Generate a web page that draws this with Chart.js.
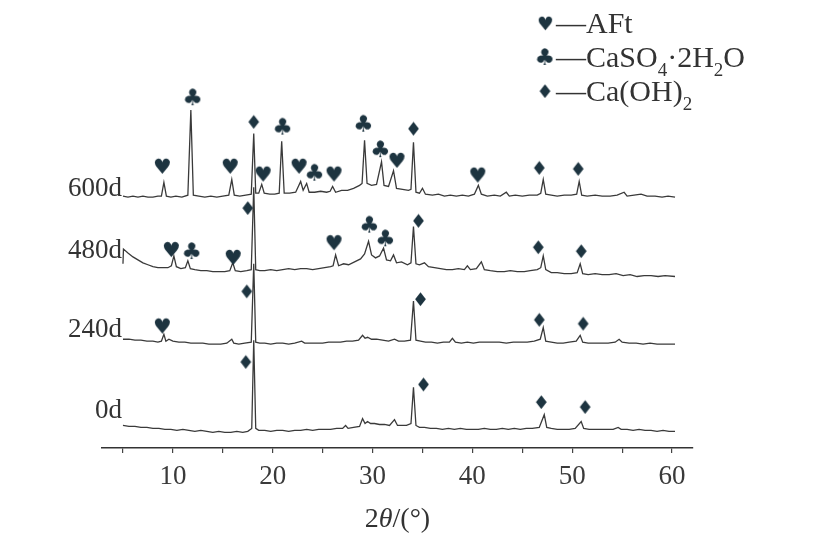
<!DOCTYPE html>
<html>
<head>
<meta charset="utf-8">
<script src="https://cdn.jsdelivr.net/npm/chart.js@4.4.1/dist/chart.umd.min.js"></script>
<style>
  html, body { margin: 0; padding: 0; background: #fff; }
  #wrap { width: 822px; height: 533px; }
</style>
</head>
<body>
<div id="wrap"><canvas id="xrdChart" width="822" height="533"></canvas></div>
<script>
// 2theta (deg) / relative intensity pairs
const xrd0d = [
  [5,5],[5.6,4],[6.2,4],[6.8,3],[7.4,3],[8,2],[8.6,2],[9.2,1],[9.8,1],[10.4,0],[11,1],[11.6,0],[12.2,-1],[12.8,0],
  [13.4,-1],[14,-2],[14.6,-1],[15.2,-2],[15.8,-2],[16.4,-1],[17,-2],[17.5,-1],[17.9,2],[18.1,92],[18.3,2],[18.6,0],
  [19.2,0],[19.8,-1],[20.4,0],[21,0],[21.6,-1],[22.2,0],[22.8,0],[23.4,1],[24,0],[24.6,1],[25.2,1],[25.8,1],[26.4,2],
  [27.0,2],[27.3,5],[27.55,2],[28.1,3],[28.7,4],[29.0,12],[29.25,7],[29.5,9],[29.8,7],[30.2,7],[30.7,6],[31.2,6],
  [31.7,5],[32.2,11],[32.5,5],[32.9,5],[33.4,5],[33.85,7],[34.1,44],[34.35,5],[34.7,3],[35.2,3],[35.8,2],[36.4,2],
  [37,1],[37.6,2],[38.2,1],[38.8,2],[39.4,1],[40,1],[40.6,1],[41.2,2],[41.8,1],[42.4,1],[43,2],[43.6,1],[44.2,2],
  [44.8,1],[45.4,2],[46,2],[46.7,3],[47.2,16],[47.45,3],[47.9,2],[48.5,1],[49.1,1],[49.7,1],[50.3,2],[50.9,9],
  [51.15,2],[51.7,1],[52.3,1],[52.9,1],[53.5,1],[54.1,1],[54.6,3],[54.9,1],[55.5,1],[56.1,0],[56.7,1],[57.3,0],
  [57.9,0],[58.5,-1],[59.1,0],[59.7,-1],[60.3,-1]
];
const xrd240d = [
  [5,3],[5.6,3],[6.2,2],[6.8,2],[7.4,1],[8,1],[8.5,0],[8.85,1],[9.1,8],[9.3,1],[9.6,3],[10,1],[10.6,0],[11.2,0],
  [11.8,-1],[12.4,-1],[13,-1],[13.6,-2],[14.2,-2],[14.8,-2],[15.4,-1],[15.9,3],[16.1,-1],[16.6,-2],[17.2,-1],
  [17.85,0],[18.1,80],[18.3,0],[18.7,-1],[19.2,-1],[19.8,-2],[20.4,-1],[21,-1],[21.6,-2],[22.2,-1],[22.9,1],
  [23.2,-1],[23.8,-1],[24.4,-1],[25,-1],[25.6,0],[26.2,0],[26.8,0],[27.4,1],[28,1],[28.6,2],[29.0,7],[29.25,4],
  [29.5,5],[29.9,3],[30.4,3],[31,2],[31.6,1],[32.2,3],[32.6,1],[33.2,1],[33.8,2],[34.1,42],[34.35,2],[34.8,1],
  [35.3,0],[35.9,0],[36.5,-1],[37.1,0],[37.7,0],[38.0,4],[38.3,0],[38.9,-1],[39.5,0],[40.1,-1],[40.7,0],[41.3,0],
  [42,0],[42.7,0],[43.4,-1],[44.1,0],[44.8,0],[45.5,0],[46.2,1],[46.8,3],[47.1,15],[47.35,1],[47.9,0],[48.5,-1],
  [49.1,-1],[49.7,0],[50.4,1],[50.8,7],[51.05,0],[51.6,-1],[52.2,-1],[52.9,-1],[53.6,-1],[54.3,0],[54.7,3],[55,0],
  [55.7,-1],[56.4,-1],[57.1,-2],[57.8,-1],[58.5,-2],[59.2,-2],[60.3,-2]
];
const xrd480d = [
  [5.0,8],[5.05,23],[5.5,19],[6,15],[6.5,12],[7,9],[7.5,7],[8,5],[8.5,4],[9,4],[9.5,4],[9.85,6],[10.1,16],[10.35,5],
  [10.8,3],[11.25,4],[11.5,11],[11.75,3],[12.2,2],[12.8,1],[13.4,1],[14,0],[14.6,0],[15.2,0],[15.7,1],[16.0,9],
  [16.25,1],[16.8,0],[17.4,1],[17.85,2],[18.1,86],[18.3,2],[18.7,1],[19.2,1],[19.8,2],[20.4,1],[21,2],[21.6,3],
  [22.2,2],[22.8,3],[23.4,3],[24,2],[24.6,3],[25.2,4],[25.8,5],[26.05,6],[26.3,17],[26.6,6],[27.1,8],[27.6,7],
  [28.2,10],[28.8,13],[29.2,18],[29.6,31],[29.9,17],[30.3,14],[30.7,16],[31.1,24],[31.4,12],[31.8,11],[32.1,17],
  [32.4,9],[32.9,10],[33.5,7],[33.85,9],[34.1,46],[34.35,8],[34.7,7],[35.2,9],[35.6,5],[36.2,4],[36.8,3],[37.4,2],
  [38,2],[38.6,3],[39.2,2],[39.5,6],[39.8,2],[40.4,3],[40.9,10],[41.2,2],[41.8,1],[42.5,0],[43.2,0],[43.8,1],
  [44.5,0],[45.2,0],[45.8,1],[46.5,2],[46.85,4],[47.1,16],[47.35,2],[47.9,-1],[48.5,-1],[49.2,-2],[49.9,-2],
  [50.5,-1],[50.8,8],[51.05,-2],[51.6,-3],[52.3,-2],[53,-3],[53.7,-3],[54.4,-2],[55.1,-4],[55.8,-3],[56.5,-5],
  [57.2,-4],[57.9,-4],[58.6,-5],[59.3,-4],[60.3,-5]
];
const xrd600d = [
  [5,1],[5.5,0],[6,1],[6.5,0],[7,1],[7.5,0],[8,0],[8.5,1],[8.85,1],[9.1,15],[9.35,1],[9.8,0],[10.3,1],[10.9,0],
  [11.5,2],[11.8,89],[12.05,2],[12.6,1],[13.2,0],[13.8,1],[14.4,0],[15,1],[15.6,2],[15.9,18],[16.15,2],[16.7,1],
  [17.3,2],[17.85,3],[18.1,65],[18.3,4],[18.6,4],[18.9,13],[19.15,4],[19.7,3],[20.2,3],[20.65,4],[20.9,57],
  [21.15,4],[21.7,4],[22.3,5],[22.8,16],[23.05,7],[23.4,14],[23.65,5],[24.2,5],[24.8,6],[25.4,5],[25.75,6],
  [26.0,11],[26.3,5],[26.9,7],[27.5,7],[28.1,9],[28.7,12],[28.95,14],[29.2,58],[29.45,14],[29.9,12],[30.4,13],
  [30.9,36],[31.15,12],[31.6,11],[32.1,27],[32.4,9],[33,8],[33.6,7],[33.85,8],[34.1,56],[34.35,5],[34.7,4],
  [35.0,9],[35.3,3],[36,2],[36.6,3],[37.2,1],[37.8,2],[38.4,1],[39,2],[39.6,1],[40.2,3],[40.6,12],[40.9,3],
  [41.5,1],[42.2,2],[42.8,1],[43.4,5],[43.7,1],[44.3,2],[45,1],[45.7,2],[46.5,2],[46.85,4],[47.1,18],[47.35,3],
  [47.9,2],[48.5,1],[49.2,2],[49.9,2],[50.45,3],[50.7,16],[50.95,2],[51.5,1],[52.3,2],[53,1],[53.8,1],[54.5,2],
  [55.2,5],[55.5,1],[56.2,2],[56.9,3],[57.5,1],[58.3,1],[59,0],[59.6,1],[60.3,0]
];

const traceNames = ['0d', '240d', '480d', '600d'];

// phase markers: [2theta, stacked intensity]
const aftMarks = [[8.9,288],[15.7,288],[19.0,280],[22.6,288],[26.1,280],[32.4,294],[40.5,279],
                  [9.8,203],[16.0,195],[26.1,210],[8.9,125]];
const gypsumMarks = [[12.0,358],[21.0,328],[24.2,281],[29.1,331],[30.8,305],
                     [11.9,201],[29.7,228],[31.3,214]];
const chMarks = [[18.1,333],[34.1,326],[46.7,286],[50.6,285],
                 [17.5,245],[34.6,232],[46.6,205],[50.9,201],
                 [17.4,160],[34.8,152],[46.7,131],[51.1,127],
                 [17.3,88],[35.1,65],[46.9,47],[51.3,42]];

const xTicks = [10, 20, 30, 40, 50, 60];

// layout / style
const stackOffsets = [18, 108, 180, 256];
const labelLift = [20, 13, 21, 8];
const LINE = '#3a3a3a';
const MARK = '#1d3440';
const SERIF = '"Liberation Serif", "Times New Roman", serif';

function glyph(ch, px) {
  const c = document.createElement('canvas');
  let g = c.getContext('2d');
  const font = px + 'px "DejaVu Sans"';
  g.font = font;
  const m = g.measureText(ch);
  c.width = Math.ceil(m.actualBoundingBoxLeft + m.actualBoundingBoxRight) + 2;
  c.height = Math.ceil(m.actualBoundingBoxAscent + m.actualBoundingBoxDescent) + 2;
  g = c.getContext('2d');
  g.font = font;
  g.fillStyle = MARK;
  g.fillText(ch, 1 + m.actualBoundingBoxLeft, 1 + m.actualBoundingBoxAscent);
  return c;
}

const heartImg = glyph('\u2665', 21);
const clubImg = glyph('\u2663', 23);
const diamondImg = glyph('\u2666', 19);

const traces = [xrd0d, xrd240d, xrd480d, xrd600d];
const lineSets = traces.map((pts, i) => ({
  label: traceNames[i],
  data: pts.map(([x, v]) => ({ x: x, y: v + stackOffsets[i] })),
  borderColor: LINE,
  borderWidth: 1.3,
  pointRadius: 0,
  tension: 0,
  order: 1
}));

const markSet = (pts, img) => ({
  data: pts.map(([x, y]) => ({ x: x, y: y })),
  showLine: false,
  pointStyle: img,
  pointRadius: 8,
  order: 0
});

const overlay = {
  id: 'overlay',
  afterDraw(chart) {
    const { ctx, scales: { x, y } } = chart;
    ctx.save();
    ctx.fillStyle = '#333';

    // trace labels
    ctx.font = '27px ' + SERIF;
    ctx.textAlign = 'right';
    ctx.textBaseline = 'middle';
    traces.forEach((pts, i) => {
      ctx.fillText(traceNames[i], x.getPixelForValue(pts[0][0]) - 1,
                   y.getPixelForValue(stackOffsets[i] + labelLift[i]));
    });

    // axis title 2θ/(°)
    ctx.textAlign = 'left';
    ctx.textBaseline = 'alphabetic';
    const parts = [['2', '28px ' + SERIF], ['\u03b8', 'italic 28px ' + SERIF], ['/(\u00b0)', '28px ' + SERIF]];
    let w = 0;
    parts.forEach(([t, f]) => { ctx.font = f; w += ctx.measureText(t).width; });
    let tx = (x.left + x.right) / 2 - w / 2;
    parts.forEach(([t, f]) => { ctx.font = f; ctx.fillText(t, tx, 527); tx += ctx.measureText(t).width; });

    // legend
    const rows = [
      [heartImg, 0.9, 23, [['\u2014AFt', 0]]],
      [clubImg, 1.0, 57, [['\u2014CaSO', 0], ['4', 1], ['\u00b72H', 0], ['2', 1], ['O', 0]]],
      [diamondImg, 1.0, 91, [['\u2014Ca(OH)', 0], ['2', 1]]]
    ];
    rows.forEach(([img, s, cy, segs]) => {
      ctx.drawImage(img, 545 - img.width * s / 2, cy - img.height * s / 2, img.width * s, img.height * s);
      let lx = 556;
      segs.forEach(([t, sub]) => {
        ctx.font = (sub ? '19px ' : '30px ') + SERIF;
        ctx.fillText(t, lx, cy + 10 + (sub ? 9 : 0));
        lx += ctx.measureText(t).width;
      });
    });
    ctx.restore();
  }
};

new Chart(document.getElementById('xrdChart').getContext('2d'), {
  type: 'line',
  data: {
    datasets: [markSet(aftMarks, heartImg), markSet(gypsumMarks, clubImg), markSet(chMarks, diamondImg), ...lineSets]
  },
  options: {
    responsive: false,
    animation: false,
    events: [],
    layout: { padding: { left: 102, right: 129, top: 0, bottom: 0 } },
    scales: {
      x: {
        type: 'linear',
        min: 2.9,
        max: 62.1,
        border: { display: true, color: '#333', width: 1.5 },
        grid: { drawOnChartArea: false, drawTicks: true, tickLength: 5, color: '#444', lineWidth: 1.2 },
        ticks: {
          stepSize: 5,
          includeBounds: false,
          autoSkip: false,
          maxRotation: 0,
          padding: 8,
          color: '#3a3a3a',
          font: { family: SERIF, size: 27 },
          callback: (v) => (xTicks.includes(v) ? String(v) : '')
        },
        afterFit: (scale) => { scale.height = 85; }
      },
      y: { display: false, min: 0, max: 448 }
    },
    plugins: { legend: { display: false }, tooltip: { enabled: false } }
  },
  plugins: [overlay]
});
</script>
</body>
</html>
